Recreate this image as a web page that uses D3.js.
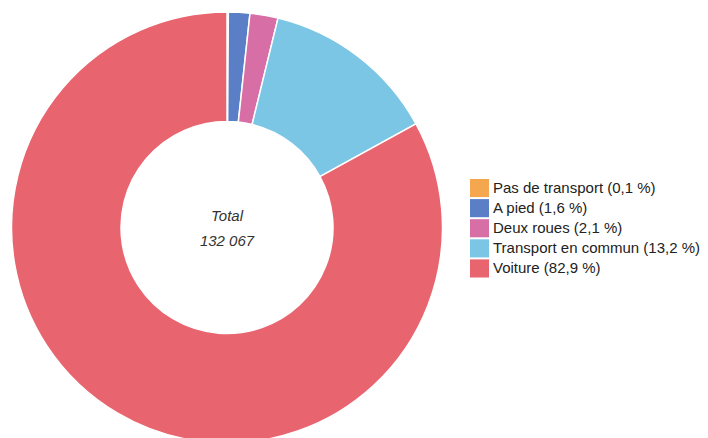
<!DOCTYPE html>
<html><head><meta charset="utf-8">
<script src="https://cdn.jsdelivr.net/npm/d3@7"></script>
<style>body{margin:0;background:#fff;overflow:hidden}svg{display:block}</style>
</head><body>
<script>
const categories = ["Pas de transport","A pied","Deux roues","Transport en commun","Voiture"];
const values = [0.1, 1.6, 2.1, 13.2, 82.9];
const valueLabels = ["0,1 %","1,6 %","2,1 %","13,2 %","82,9 %"];
const colors = ["#F4A74F","#5A7FC6","#D86EA6","#7BC5E5","#E8646F"];
const totalLabel = "Total";
const totalValue = "132 067";

const W = 708, H = 438;
const svg = d3.select("body").append("svg").attr("width", W).attr("height", H);
const cx = 227, cy = 227.5, R = 215.5, r = 106;

const pie = d3.pie().sort(null).value(d => d);
const arc = d3.arc().innerRadius(r).outerRadius(R);
const g = svg.append("g").attr("transform", `translate(${cx},${cy})`);
g.selectAll("path").data(pie(values)).join("path")
  .attr("d", arc)
  .attr("fill", (d,i) => colors[i])
  .attr("stroke", "#fff").attr("stroke-width", 1.5);

g.append("text").attr("text-anchor","middle").attr("y",-7)
  .attr("font-family","Liberation Sans, Arial, sans-serif").attr("font-style","italic")
  .attr("font-size",15).attr("fill","#333").text(totalLabel);
g.append("text").attr("text-anchor","middle").attr("y",18)
  .attr("font-family","Liberation Sans, Arial, sans-serif").attr("font-style","italic")
  .attr("font-size",15).attr("fill","#333").text(totalValue);

const y = d3.scaleBand().domain(categories).range([179, 179 + 19.7*5]).paddingInner(0.1);
const leg = svg.append("g");
const items = leg.selectAll("g").data(categories).join("g")
  .attr("transform", d => `translate(470,${y(d)})`);
items.append("rect").attr("width", 19).attr("height", y.bandwidth()).attr("fill", (d,i) => colors[i]);
items.append("text").attr("x", 23).attr("y", y.bandwidth()/2 + 5)
  .attr("font-family","Liberation Sans, Arial, sans-serif").attr("font-size",15)
  .attr("fill","#222").text((d,i) => `${d} (${valueLabels[i]})`);
</script>
</body></html>
